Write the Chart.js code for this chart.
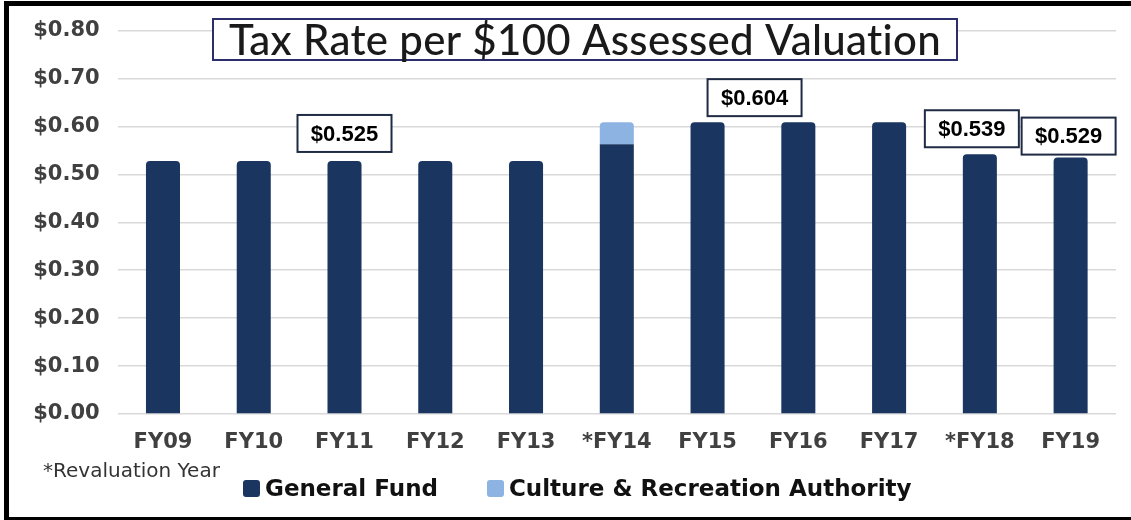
<!DOCTYPE html>
<html>
<head>
<meta charset="utf-8">
<title>Tax Rate per $100 Assessed Valuation</title>
<script src="https://cdn.jsdelivr.net/npm/chart.js@4.4.1/dist/chart.umd.min.js"></script>
<style>
    html, body { margin: 0; padding: 0; background: #fff; }
    #wrap { position: relative; width: 1131px; height: 520px; overflow: hidden; }
    #frame { position: absolute; left: 4px; top: 1px; width: 1140px; height: 511px; border: 5px solid #000; pointer-events: none; }
    #legend { position: absolute; left: 243px; top: 475px; display: flex; align-items: center; font: bold 23px "DejaVu Sans", sans-serif; color: #111; }
    .item { display: flex; align-items: center; margin-right: 49px; }
    .swatch { width: 17px; height: 17px; border-radius: 3px; margin-right: 5px; }
</style>
</head>
<body>
<div id="wrap">
    <canvas id="taxChart"></canvas>
    <div id="legend"></div>
    <div id="frame"></div>
</div>
<script>
// Fiscal years on the x axis (* = revaluation year)
const years = ['FY09', 'FY10', 'FY11', 'FY12', 'FY13', '*FY14', 'FY15', 'FY16', 'FY17', '*FY18', 'FY19'];
// Rate per $100
const generalFund = [0.528, 0.528, 0.528, 0.528, 0.528, 0.563, 0.609, 0.609, 0.609, 0.542, 0.535];
const cultureRec = [0, 0, 0, 0, 0, 0.046, 0, 0, 0, 0, 0];
// Callout boxes shown above some bars
const callouts = ['', '', '$0.525', '', '', '', '$0.604', '', '', '$0.539', '$0.529'];
const yTicks = [0, 0.1, 0.2, 0.3, 0.4, 0.5, 0.6, 0.7, 0.8];

const NAVY = '#1a3660';
const LIGHT = '#8db3e2';

// callout index -> [x shift, gap between box bottom and bar top]
const calloutShift = { 2: [0, -9], 6: [47, -6], 9: [-8, -7], 10: [-2, -3] };

const overlay = {
    id: 'overlay',
    afterDraw(chart) {
        const ctx = chart.ctx;
        const xs = chart.scales.x, ys = chart.scales.y;
        ctx.save();

        // Title box
        ctx.fillStyle = '#fff';
        ctx.fillRect(213, 19, 744, 41);
        ctx.strokeStyle = '#2b2e6b';
        ctx.lineWidth = 2;
        ctx.strokeRect(213, 19, 744, 41);
        ctx.fillStyle = '#1a1a1a';
        ctx.font = '500 42px Lato, sans-serif';
        ctx.letterSpacing = '0.3px'; // also stops the "ti" ligature
        ctx.textAlign = 'center';
        ctx.textBaseline = 'middle';
        ctx.fillText('Tax Rate per $100 Assessed Valuation', 585, 41);
        ctx.letterSpacing = '0px';

        // Value callouts
        ctx.font = 'bold 22px "Liberation Sans", sans-serif';
        callouts.forEach((txt, i) => {
            if (!txt) return;
            const [dx, gap] = calloutShift[i] || [0, -8];
            const cx = xs.getPixelForValue(i) + dx;
            const barTop = ys.getPixelForValue(generalFund[i] + cultureRec[i]);
            const w = 94, h = 37;
            const bx = cx - w / 2, by = barTop + gap - h;
            ctx.fillStyle = '#fff';
            ctx.fillRect(bx, by, w, h);
            ctx.strokeStyle = '#1f2a44';
            ctx.lineWidth = 2;
            ctx.strokeRect(bx, by, w, h);
            ctx.fillStyle = '#000';
            ctx.fillText(txt, cx, by + h / 2 + 1);
        });

        // Footnote
        ctx.font = '20px "DejaVu Sans", sans-serif';
        ctx.fillStyle = '#333';
        ctx.textAlign = 'left';
        ctx.fillText('*Revaluation Year', 43, 472);
        ctx.restore();
    }
};

const chart = new Chart(document.getElementById('taxChart'), {
    type: 'bar',
    data: {
        labels: years,
        datasets: [
            { label: 'General Fund', data: generalFund, backgroundColor: NAVY },
            { label: 'Culture & Recreation Authority', data: cultureRec, backgroundColor: LIGHT }
        ]
    },
    options: {
        responsive: true,
        maintainAspectRatio: false,
        animation: false,
        layout: { padding: { top: 28, right: 15, bottom: 66, left: 0 } },
        datasets: {
            bar: { categoryPercentage: 1, barPercentage: 0.375, borderRadius: 4, borderSkipped: 'start' }
        },
        plugins: {
            legend: { display: false },
            tooltip: { enabled: false }
        },
        scales: {
            x: {
                stacked: true,
                grid: { display: false },
                border: { display: false },
                ticks: { color: '#404040', padding: 8, font: { family: 'DejaVu Sans', weight: 'bold', size: 21 } },
                afterFit: s => { s.height = 40; }
            },
            y: {
                stacked: true,
                min: 0,
                max: 0.8,
                afterBuildTicks: s => { s.ticks = yTicks.map(v => ({ value: v })); },
                grid: { color: '#d9d9d9', lineWidth: 1.5, drawTicks: false },
                border: { display: false },
                ticks: {
                    color: '#404040',
                    padding: 18,
                    font: { family: 'DejaVu Sans', weight: 'bold', size: 21 },
                    callback: v => '$' + v.toFixed(2)
                },
                afterFit: s => { s.width = 117.6; }
            }
        }
    },
    plugins: [overlay]
});

// HTML legend built from the datasets
document.getElementById('legend').innerHTML = chart.data.datasets.map(d => `
    <div class="item"><span class="swatch" style="background:${d.backgroundColor}"></span>${d.label}</div>
`).join('');
</script>
</body>
</html>
